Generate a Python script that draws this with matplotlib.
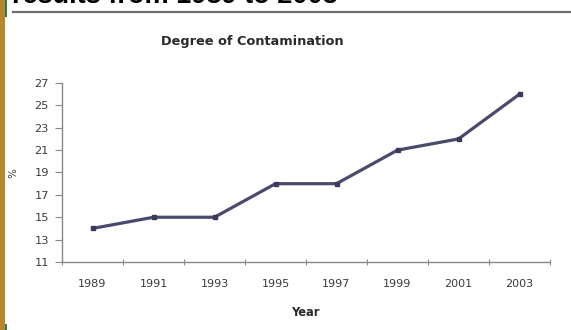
import matplotlib
matplotlib.use("Agg")
import matplotlib.pyplot as plt
from matplotlib.patches import Rectangle
from matplotlib.lines import Line2D

years = ["1989", "1991", "1993", "1995", "1997", "1999", "2001", "2003"]
contamination = [14, 15, 15, 18, 18, 21, 22, 26]
y_ticks = [11, 13, 15, 17, 19, 21, 23, 25, 27]

W, H = 571, 330
fig = plt.figure(figsize=(W / 100, H / 100), dpi=100)
fig.patch.set_facecolor("white")
plt.rcParams["font.family"] = ["DejaVu Sans"]

def fx(px):
    return px / W

def fy(py):
    return 1 - py / H

# slide decorations: gold side bar, green accents, rule under heading
fig.patches.append(Rectangle((0, 0), fx(5), 1, transform=fig.transFigure,
                             facecolor="#B8862E", edgecolor="none"))
fig.patches.append(Rectangle((fx(5), fy(17)), fx(2), 17 / H, transform=fig.transFigure,
                             facecolor="#2E7D4F", edgecolor="none"))
fig.patches.append(Rectangle((fx(5), 0), fx(2), 6 / H, transform=fig.transFigure,
                             facecolor="#2E7D4F", edgecolor="none"))
fig.lines.append(Line2D([fx(13), 1], [fy(12), fy(12)], transform=fig.transFigure,
                        color="#6E6E6E", lw=1.6))
fig.text(fx(12), fy(3), "results from 1989 to 2003", fontsize=19.5, fontweight="bold",
         family="Liberation Sans", color="black", ha="left", va="baseline")

ax = fig.add_axes([fx(62), fy(262), fx(550) - fx(62), (262 - 83) / H])
ax.set_facecolor("white")

x = [i + 0.5 for i in range(len(years))]
ax.plot(x, contamination, color="#4A4A6E", lw=2.3, marker="s", markersize=3.0,
        markerfacecolor="#3A3A5A", markeredgecolor="#3A3A5A", solid_joinstyle="round")

ax.set_xlim(0, len(years))
ax.set_ylim(11, 27)
ax.set_yticks(y_ticks)
ax.set_yticklabels([str(v) for v in y_ticks])
ax.set_xticks(range(len(years) + 1))
ax.set_xticklabels([])
ax.set_xticks(x, minor=True)
ax.set_xticklabels(years, minor=True)
ax.tick_params(axis="x", which="minor", length=0, pad=12, labelsize=8, labelcolor="#3A3A3A")
ax.tick_params(axis="x", which="major", length=4, direction="inout", color="#888888")
ax.tick_params(axis="y", length=5, direction="out", color="#888888", labelsize=8.2,
               labelcolor="#3A3A3A", pad=4.5)

for s in ["top", "right"]:
    ax.spines[s].set_visible(False)
for s in ["left", "bottom"]:
    ax.spines[s].set_color("#888888")
    ax.spines[s].set_linewidth(1.0)

fig.text(fx(252), fy(42), "Degree of Contamination", fontsize=9.3, fontweight="bold",
         color="#2A2A2A", ha="center", va="center")
fig.text(fx(305), fy(312), "Year", fontsize=8.3, fontweight="bold", color="#2A2A2A",
         ha="center", va="center")
fig.text(fx(13), fy(173), "%", fontsize=7.5, color="#3A3A3A", rotation=90,
         ha="center", va="center")

fig.savefig("out.png", dpi=100, facecolor="white")
